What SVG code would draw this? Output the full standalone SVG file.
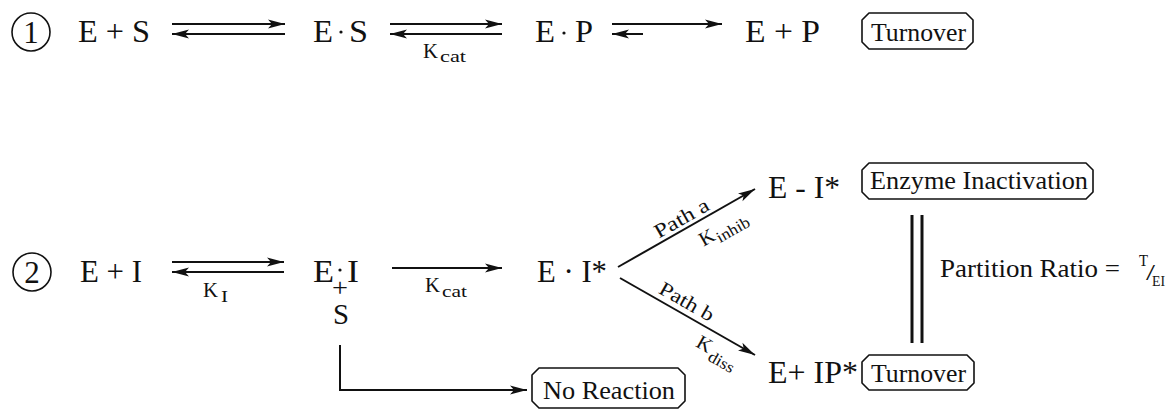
<svg xmlns="http://www.w3.org/2000/svg" width="1166" height="409" viewBox="0 0 1166 409">
<defs>
<marker id="ah" markerUnits="userSpaceOnUse" markerWidth="20" markerHeight="12" viewBox="0 -6 18 12" refX="17" refY="0" orient="auto">
<path d="M0,-4.5 L17,0 L0,4.5 L4,0 Z" fill="#111"/>
</marker>
<style>
text{fill:#111}
.big{font-size:31px}
.mid{font-size:25px}
.lab{font-size:20px}
.sb{font-size:16px}
.arr{stroke:#111;stroke-width:2;fill:none;marker-end:url(#ah)}
.box{fill:#fff;stroke:#111;stroke-width:1.6;stroke-linejoin:round}
</style>
</defs>
<rect width="1166" height="409" fill="#fff"/>
<g font-family="Liberation Serif, Tinos, Times New Roman, DejaVu Serif, serif">
<g id="connectors">
<line class="arr" x1="172" y1="24" x2="285" y2="24"/>
<line class="arr" x1="285" y1="34" x2="172" y2="34"/>
<line class="arr" x1="390" y1="24" x2="502" y2="24"/>
<line class="arr" x1="502" y1="34" x2="390" y2="34"/>
<line class="arr" x1="612" y1="24" x2="722" y2="24"/>
<line class="arr" x1="643" y1="34" x2="612" y2="34"/>
<line class="arr" x1="172" y1="262" x2="284" y2="262"/>
<line class="arr" x1="284" y1="272" x2="172" y2="272"/>
<line class="arr" x1="392" y1="268" x2="502" y2="268"/>
<line class="arr" x1="618" y1="267" x2="755" y2="189"/>
<line class="arr" x1="620" y1="278" x2="755" y2="355"/>
<polyline class="arr" points="340,345 340,390 527,390"/>
<line x1="912" y1="215" x2="912" y2="343" stroke="#111" stroke-width="3"/>
<line x1="922" y1="215" x2="922" y2="343" stroke="#111" stroke-width="3"/>
<text class="lab" x="423" y="58" textLength="15" lengthAdjust="spacingAndGlyphs">K</text>
<text class="sb" x="440" y="62" textLength="26" lengthAdjust="spacingAndGlyphs">cat</text>
<text class="lab" x="203" y="297" textLength="15" lengthAdjust="spacingAndGlyphs">K</text>
<text class="sb" x="221" y="302" textLength="7" lengthAdjust="spacingAndGlyphs">I</text>
<text class="lab" x="425" y="292" textLength="15" lengthAdjust="spacingAndGlyphs">K</text>
<text class="sb" x="442" y="297" textLength="25" lengthAdjust="spacingAndGlyphs">cat</text>
<g transform="translate(686,228) rotate(-29.66)">
<text class="lab" x="-29" y="-4" textLength="60" lengthAdjust="spacingAndGlyphs">Path a</text>
<text class="lab" x="6" y="25" textLength="15" lengthAdjust="spacingAndGlyphs">K</text>
<text class="sb" x="22" y="30" textLength="36" lengthAdjust="spacingAndGlyphs">inhib</text>
</g>
<g transform="translate(687.5,316.5) rotate(29.7)">
<text class="lab" x="-38" y="-6" textLength="60" lengthAdjust="spacingAndGlyphs">Path b</text>
<text class="lab" x="21" y="22" textLength="15" lengthAdjust="spacingAndGlyphs">K</text>
<text class="sb" x="38" y="28" textLength="28" lengthAdjust="spacingAndGlyphs">diss</text>
</g>
</g>

<g id="label1">
<circle cx="31" cy="32" r="19" fill="none" stroke="#111" stroke-width="1.6"/>
<text class="big" x="31" y="43" text-anchor="middle">1</text>
</g>
<g id="label2">
<circle cx="32" cy="272" r="19" fill="none" stroke="#111" stroke-width="1.6"/>
<text class="big" x="32" y="283" text-anchor="middle">2</text>
</g>

<g id="ES-free"><text class="big" x="78" y="42" textLength="72" lengthAdjust="spacingAndGlyphs">E + S</text></g>
<g id="ES-complex">
<text class="big" x="313" y="42" textLength="20" lengthAdjust="spacingAndGlyphs">E</text>
<circle cx="341" cy="32" r="1.6" fill="#111"/>
<text class="big" x="349" y="42" textLength="19" lengthAdjust="spacingAndGlyphs">S</text>
</g>
<g id="EP-complex">
<text class="big" x="535" y="42" textLength="20" lengthAdjust="spacingAndGlyphs">E</text>
<circle cx="564" cy="33" r="1.6" fill="#111"/>
<text class="big" x="575" y="42" textLength="18" lengthAdjust="spacingAndGlyphs">P</text>
</g>
<g id="EP-free"><text class="big" x="745" y="42" textLength="75" lengthAdjust="spacingAndGlyphs">E + P</text></g>
<g id="turnover1">
<path class="box" d="M869,13 H966 L973,20 V42 L966,49 H869 L862,42 V20 Z"/>
<text class="mid" x="871" y="41" textLength="95" lengthAdjust="spacingAndGlyphs">Turnover</text>
</g>

<g id="EI-free"><text class="big" x="80" y="282" textLength="62" lengthAdjust="spacingAndGlyphs">E + I</text></g>
<g id="EI-complex">
<text class="big" x="313" y="282" textLength="21" lengthAdjust="spacingAndGlyphs">E</text>
<circle cx="340" cy="270" r="1.6" fill="#111"/>
<text class="big" x="347" y="282" textLength="12" lengthAdjust="spacingAndGlyphs">I</text>
<text font-size="26" x="332" y="296" textLength="16" lengthAdjust="spacingAndGlyphs">+</text>
<text font-size="30" x="333" y="324" textLength="16" lengthAdjust="spacingAndGlyphs">S</text>
</g>
<g id="EIstar"><text class="big" x="537" y="282" textLength="70" lengthAdjust="spacingAndGlyphs">E · I*</text></g>
<g id="E-Istar"><text class="big" x="768" y="198" textLength="72" lengthAdjust="spacingAndGlyphs">E - I*</text></g>
<g id="E-IPstar"><text class="big" x="768" y="383" textLength="90" lengthAdjust="spacingAndGlyphs">E+ IP*</text></g>
<g id="inactivation">
<path class="box" d="M869,163 H1086 L1093,170 V192 L1086,199 H869 L862,192 V170 Z"/>
<text class="mid" x="870" y="189" textLength="218" lengthAdjust="spacingAndGlyphs">Enzyme Inactivation</text>
</g>
<g id="turnover2">
<path class="box" d="M869,355 H967 L974,362 V383 L967,390 H869 L862,383 V362 Z"/>
<text class="mid" x="871" y="382" textLength="95" lengthAdjust="spacingAndGlyphs">Turnover</text>
</g>
<g id="noreaction">
<path class="box" d="M539,368 H678 L685,375 V401 L678,408 H539 L532,401 V375 Z"/>
<text class="mid" x="543" y="399" textLength="132" lengthAdjust="spacingAndGlyphs">No Reaction</text>
</g>
<g id="partition">
<text class="mid" x="940" y="277" textLength="180" lengthAdjust="spacingAndGlyphs">Partition Ratio =</text>
<text font-size="16" x="1139" y="266" textLength="9" lengthAdjust="spacingAndGlyphs">T</text>
<text font-size="24" x="1146" y="280" textLength="9" lengthAdjust="spacingAndGlyphs">/</text>
<text font-size="15" x="1152" y="286" textLength="13" lengthAdjust="spacingAndGlyphs">EI</text>
</g>
</g>
</svg>
